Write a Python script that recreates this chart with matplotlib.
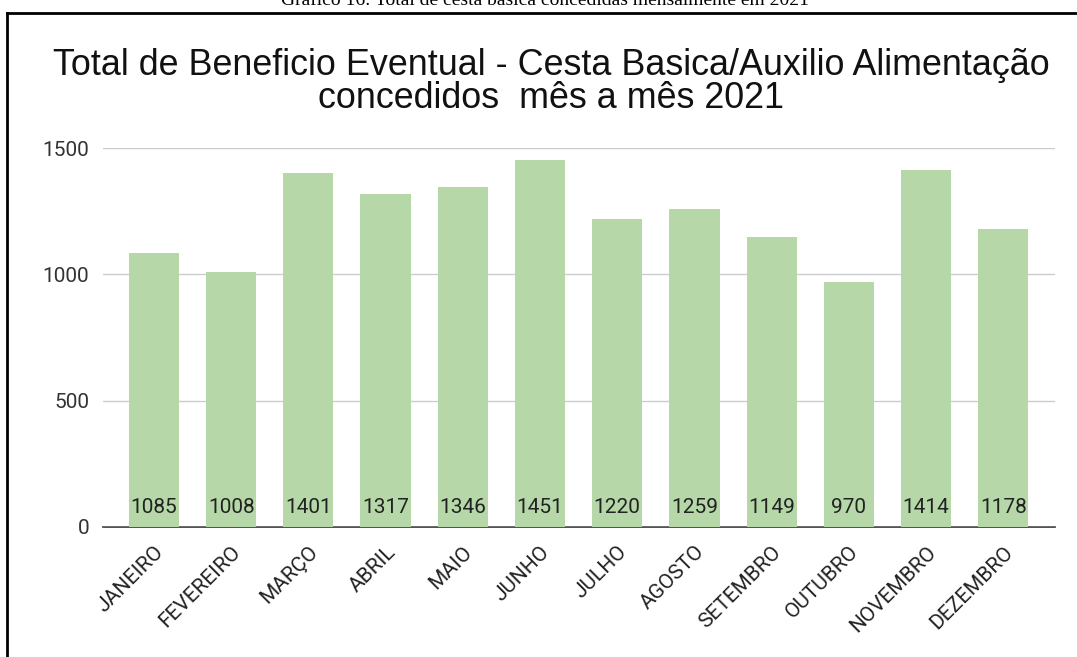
import numpy as np
import matplotlib.pyplot as plt
from matplotlib.lines import Line2D

meses = ['JANEIRO', 'FEVEREIRO', 'MARÇO', 'ABRIL', 'MAIO', 'JUNHO',
         'JULHO', 'AGOSTO', 'SETEMBRO', 'OUTUBRO', 'NOVEMBRO', 'DEZEMBRO']
totais = [1085, 1008, 1401, 1317, 1346, 1451, 1220, 1259, 1149, 970, 1414, 1178]
yticks = [0, 500, 1000, 1500]

titulo = ("Total de Beneficio Eventual - Cesta Basica/Auxilio Alimentação\n"
          "concedidos  mês a mês 2021")
legenda_doc = "Gráfico 16: Total de cesta básica concedidas mensalmente em 2021"

W, H = 1077, 657
fig = plt.figure(figsize=(W / 100, H / 100), dpi=100)
fig.patch.set_facecolor('white')

# plot area in pixel coords: x 103..1055, y 148(1500)..527(0)
ax = fig.add_axes([103 / W, 1 - 527 / H, (1055 - 103) / W, (527 - 148) / H])

x = np.arange(len(meses))
ax.bar(x, totais, width=0.65, color='#b6d7a8', zorder=2)
ax.set_xlim(-0.66, len(meses) - 1 + 0.67)
ax.set_ylim(0, 1500)

for xi, v in zip(x, totais):
    ax.annotate(f'{v}', xy=(xi, 0), xytext=(0, 14), textcoords='offset points',
                ha='center', va='center', fontsize=15, color='#222222',
                family='Roboto', zorder=3)

ax.set_yticks(yticks)
ax.set_yticklabels([str(t) for t in yticks], family='Roboto', fontsize=15,
                   color='#333333')
ax.set_xticks(x)
ax.set_xticklabels(meses, rotation=45, ha='right', rotation_mode='anchor',
                   family='Roboto', fontsize=15, color='#222222')
ax.tick_params(axis='both', length=0)
ax.tick_params(axis='x', pad=11)
ax.tick_params(axis='y', pad=10)

ax.grid(axis='y', color='#cccccc', linewidth=1, zorder=0)
for s in ['top', 'right', 'left']:
    ax.spines[s].set_visible(False)
ax.spines['bottom'].set_color('#333333')
ax.spines['bottom'].set_linewidth(1.2)
ax.spines['bottom'].set_zorder(1)

fig.text(551 / W, 1 - 82 / H, titulo, ha='center', va='center',
         fontsize=25.8, family='Liberation Sans', color='#111111',
         linespacing=0.95)

# caption of the document, clipped at the top edge
fig.text(545 / W, 1 - 5 / H, legenda_doc, ha='center', va='baseline',
         fontsize=14, family='Liberation Serif', color='black')

# frame of the page around the chart
fig.add_artist(Line2D([7 / W, 7 / W], [0, 1 - 13 / H], transform=fig.transFigure,
                      color='black', linewidth=2))
fig.add_artist(Line2D([7 / W, 1], [1 - 13 / H, 1 - 13 / H],
                      transform=fig.transFigure, color='black', linewidth=2))

fig.savefig('out.png', dpi=100)
